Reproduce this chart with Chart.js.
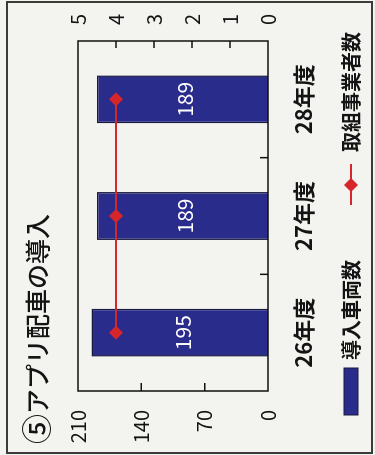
<!DOCTYPE html>
<html><head><meta charset="utf-8">
<script src="https://cdn.jsdelivr.net/npm/chart.js@4.4.1/dist/chart.umd.min.js"></script>
<style>
html,body{margin:0;padding:0;width:375px;height:455px;overflow:hidden;background:#f3f3ef;}
#frame{position:absolute;left:6px;top:1px;width:363px;height:449px;border:2px solid #3b3b3b;}
#wrap{position:absolute;left:0;top:0;width:455px;height:375px;transform-origin:0 0;transform:translate(0,455px) rotate(-90deg);}
</style></head><body>
<div id="frame"></div>
<div id="wrap"><canvas id="c" width="455" height="375"></canvas></div>
<script>
const categories = ['26年度','27年度','28年度'];
const vehicleCounts = [195, 189, 189];
const operatorCounts = [4, 4, 4];
const seriesNames = ['導入車両数', '取組事業者数'];
const chartTitle = '⑤アプリ配車の導入';

const NARROW = "'Liberation Sans Narrow','Arial Narrow','Noto Sans CJK JP',sans-serif";
const CJK = "'Liberation Sans Narrow','Noto Sans CJK JP',sans-serif";
const BAR = '#2a2c8c', BAR_EDGE = '#1a1a40', RED = '#d6262c', INK = '#141414';

const deco = {
  id: 'deco',
  afterDatasetsDraw(chart) {
    const ctx = chart.ctx, ca = chart.chartArea;
    const ys = chart.scales.y, y1 = chart.scales.y1, xs = chart.scales.x;
    ctx.save();
    // bar value labels
    const meta = chart.getDatasetMeta(1);
    ctx.fillStyle = '#ffffff';
    ctx.font = "21px " + NARROW;
    ctx.textAlign = 'center'; ctx.textBaseline = 'middle';
    meta.data.forEach((el, i) => {
      ctx.fillText(String(vehicleCounts[i]), el.x, (el.y + el.base) / 2 + 3);
    });
    // frame
    ctx.strokeStyle = '#111'; ctx.lineWidth = 1.5;
    ctx.strokeRect(ca.left, ca.top, ca.width, ca.height);
    ctx.beginPath();
    ys.ticks.forEach(t => {
      if (t.value > ys.min && t.value < ys.max) {
        const p = ys.getPixelForValue(t.value);
        ctx.moveTo(ca.left, p); ctx.lineTo(ca.left + 8, p);
      }
    });
    y1.ticks.forEach(t => {
      if (t.value > y1.min && t.value < y1.max) {
        const p = y1.getPixelForValue(t.value);
        ctx.moveTo(ca.right, p); ctx.lineTo(ca.right - 7, p);
      }
    });
    for (let i = 0; i < categories.length - 1; i++) {
      const p = (xs.getPixelForValue(i) + xs.getPixelForValue(i + 1)) / 2;
      ctx.moveTo(p, ca.bottom); ctx.lineTo(p, ca.bottom - 8);
    }
    ctx.stroke();
    ctx.restore();
  },
  afterDraw(chart) {
    const ctx = chart.ctx;
    ctx.save();
    // title
    ctx.fillStyle = INK;
    ctx.textAlign = 'left'; ctx.textBaseline = 'middle';
    ctx.font = "500 30px 'Noto Sans CJK JP',sans-serif";
    const head = chartTitle.slice(0, 1), rest = chartTitle.slice(1);
    ctx.fillText(head, 11, 37);
    const hw = ctx.measureText(head).width;
    ctx.font = "500 25px 'Noto Sans CJK JP',sans-serif";
    ctx.fillText(rest, 11 + hw, 37);
    // legend
    const ly = 351;
    ctx.fillStyle = BAR; ctx.strokeStyle = BAR_EDGE; ctx.lineWidth = 1;
    ctx.fillRect(40, ly - 7, 47, 14); ctx.strokeRect(40, ly - 7, 47, 14);
    ctx.fillStyle = INK;
    ctx.font = "bold 20px 'Noto Sans CJK JP',sans-serif";
    ctx.fillText(seriesNames[0], 95, ly);
    ctx.strokeStyle = RED; ctx.lineWidth = 2;
    ctx.beginPath(); ctx.moveTo(250, ly); ctx.lineTo(291, ly); ctx.stroke();
    ctx.fillStyle = RED;
    ctx.beginPath(); ctx.moveTo(270, ly - 7); ctx.lineTo(277, ly); ctx.lineTo(270, ly + 7); ctx.lineTo(263, ly); ctx.closePath(); ctx.fill();
    ctx.fillStyle = INK;
    ctx.fillText(seriesNames[1], 303, ly);
    ctx.restore();
  }
};

new Chart(document.getElementById('c'), {
  data: {
    labels: categories,
    datasets: [
      { type: 'line', label: seriesNames[1], data: operatorCounts, yAxisID: 'y1', order: 0,
        borderColor: RED, borderWidth: 2, pointStyle: 'rectRot', pointRadius: 7,
        pointBackgroundColor: RED, pointBorderColor: RED, pointBorderWidth: 0, fill: false, tension: 0 },
      { type: 'bar', label: seriesNames[0], data: vehicleCounts, yAxisID: 'y', order: 1,
        backgroundColor: BAR, borderColor: BAR_EDGE, borderWidth: 1.5,
        categoryPercentage: 1, barPercentage: 0.41 }
    ]
  },
  options: {
    responsive: false, animation: false, events: [], devicePixelRatio: 1,
    layout: { padding: { top: 78, bottom: 27, left: 0, right: 0 } },
    plugins: { legend: { display: false }, title: { display: false }, tooltip: { enabled: false } },
    scales: {
      x: { grid: { display: false, drawTicks: false }, border: { display: false },
           ticks: { color: INK, font: { size: 22, family: CJK, weight: 'bold' }, padding: 22 },
           afterFit(s) { s.height = 80; } },
      y: { position: 'left', min: 0, max: 210,
           ticks: { stepSize: 70, color: INK, font: { size: 20, family: NARROW }, padding: 19 },
           grid: { display: false, drawTicks: false }, border: { display: false },
           afterFit(s) { s.width = 64; } },
      y1: { position: 'right', min: 0, max: 5,
           ticks: { stepSize: 1, color: INK, font: { size: 20, family: NARROW }, padding: 16 },
           grid: { display: false, drawTicks: false }, border: { display: false },
           afterFit(s) { s.width = 41; } }
    }
  },
  plugins: [deco]
});
</script>
</body></html>
